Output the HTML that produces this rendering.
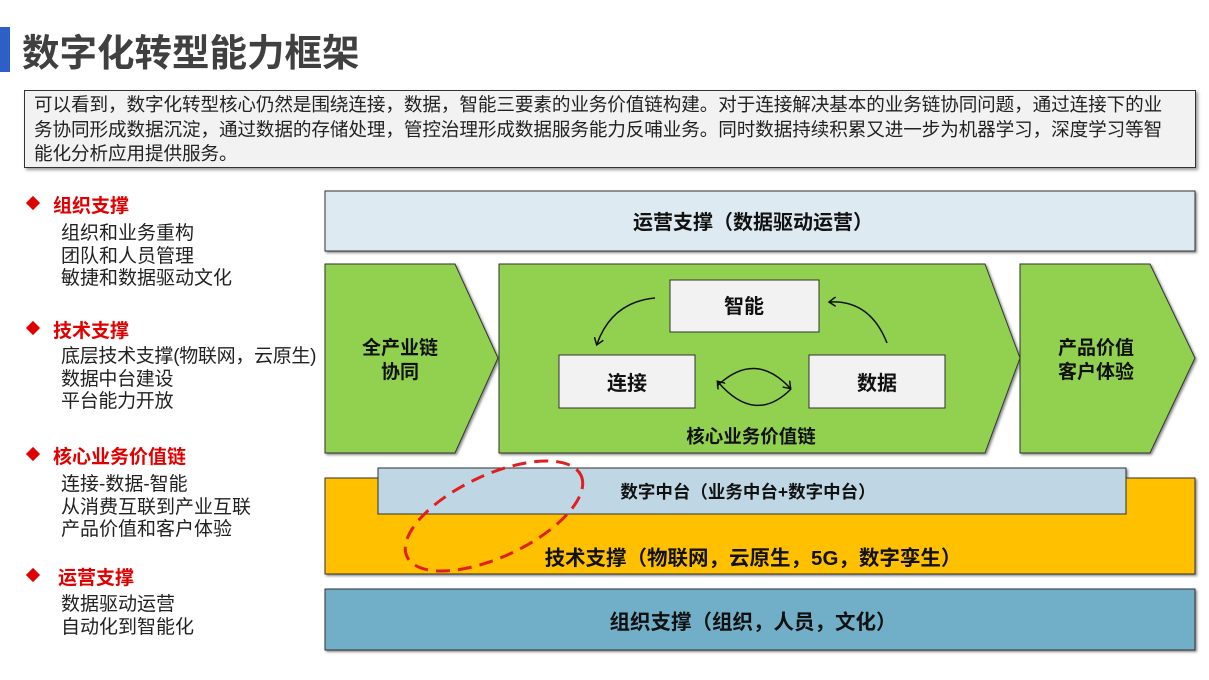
<!DOCTYPE html>
<html><head><meta charset="utf-8"><style>
body{margin:0;width:1209px;height:680px;background:#fff;position:relative;overflow:hidden;font-family:"Liberation Sans","Noto Sans CJK SC",sans-serif;}
.a{position:absolute;}
.t{font-size:19px;color:#222;line-height:22.5px;}
.h{font-size:19px;font-weight:bold;color:#e00000;}
.d{position:absolute;width:10px;height:10px;background:#e00000;transform:rotate(45deg);}
</style></head><body>
<div class="a" style="left:0;top:27px;width:10px;height:45px;background:#2c5fc7"></div>
<div class="a" style="left:22px;top:29px;font-size:37.5px;font-weight:bold;color:#404040;line-height:48px">数字化转型能力框架</div>
<div class="a" style="left:24px;top:90px;width:1172px;height:78px;background:#f2f2f2;border:1px solid #333;box-shadow:2px 2px 3px #999;box-sizing:border-box;padding:2px 6px 2px 9px;font-size:18.6px;line-height:24.5px;color:#222;letter-spacing:-0.1px;white-space:nowrap">可以看到，数字化转型核心仍然是围绕连接，数据，智能三要素的业务价值链构建。对于连接解决基本的业务链协同问题，通过连接下的业<br>务协同形成数据沉淀，通过数据的存储处理，管控治理形成数据服务能力反哺业务。同时数据持续积累又进一步为机器学习，深度学习等智<br>能化分析应用提供服务。</div>

<div class="d" style="left:28px;top:198px"></div><div class="a h" style="left:53px;top:191px">组织支撑</div>
<div class="a t" style="left:61px;top:223px">组织和业务重构<br>团队和人员管理<br>敏捷和数据驱动文化</div>
<div class="d" style="left:28px;top:323px"></div><div class="a h" style="left:53px;top:316px">技术支撑</div>
<div class="a t" style="left:61px;top:346px;letter-spacing:-0.3px">底层技术支撑(物联网，云原生)<br>数据中台建设<br>平台能力开放</div>
<div class="d" style="left:28px;top:449px"></div><div class="a h" style="left:53px;top:442px">核心业务价值链</div>
<div class="a t" style="left:61px;top:474px">连接-数据-智能<br>从消费互联到产业互联<br>产品价值和客户体验</div>
<div class="d" style="left:28px;top:570px"></div><div class="a h" style="left:58px;top:563px">运营支撑</div>
<div class="a t" style="left:61px;top:594px">数据驱动运营<br>自动化到智能化</div>

<svg class="a" style="left:0;top:0" width="1209" height="680">
<defs><filter id="s"><feDropShadow dx="1.5" dy="1.5" stdDeviation="1.2" flood-color="#888"/></filter>
<marker id="ar" markerWidth="10" markerHeight="10" refX="6" refY="5" orient="auto" markerUnits="userSpaceOnUse"><path d="M0,0 L7,5 L0,10" fill="none" stroke="#111" stroke-width="1.5"/></marker></defs>
<g stroke="#333" stroke-width="1" filter="url(#s)">
<rect x="325" y="191" width="870" height="60" fill="#deeaf2"/>
<polygon points="325,264 455,264 498,358 455,453 325,453" fill="#92d050"/>
<polygon points="499,264 985,264 1020,358 985,453 499,453" fill="#92d050"/>
<polygon points="1020,264 1150,264 1195,358 1150,453 1020,453" fill="#92d050"/>
<rect x="670" y="280" width="149" height="52" fill="#f2f2f2"/>
<rect x="559" y="355" width="136" height="53" fill="#f2f2f2"/>
<rect x="809" y="355" width="136" height="53" fill="#f2f2f2"/>
<rect x="325" y="478" width="870" height="96" fill="#ffc000"/>
<rect x="378" y="468" width="748" height="46" fill="#bfd6e4"/>
<rect x="325" y="589" width="870" height="61" fill="#71afc8"/>
</g>
<g fill="none" stroke="#111" stroke-width="1.5">
<path d="M655,298 Q612,302 597,344" marker-end="url(#ar)"/>
<path d="M887,343 Q870,300 830,302" marker-end="url(#ar)"/>
<path d="M791,389 Q755,425 718,382" marker-end="url(#ar)"/>
<path d="M717,386 Q755,350 790,388" marker-end="url(#ar)"/>
</g>
<ellipse cx="494" cy="516" rx="96" ry="41" transform="rotate(-25 494 516)" fill="none" stroke="#e02020" stroke-width="3" stroke-dasharray="14,8"/>
<g font-family="Liberation Sans,Noto Sans CJK SC,sans-serif" font-weight="bold" fill="#111" text-anchor="middle">
<text x="753" y="229" font-size="20">运营支撑（数据驱动运营）</text>
<text x="400" y="354" font-size="19">全产业链</text><text x="400" y="378" font-size="19">协同</text>
<text x="1096" y="354" font-size="19">产品价值</text><text x="1096" y="378" font-size="19">客户体验</text>
<text x="744" y="313" font-size="20">智能</text>
<text x="627" y="390" font-size="20">连接</text>
<text x="877" y="390" font-size="20">数据</text>
<text x="751" y="443" font-size="18.5">核心业务价值链</text>
<text x="748" y="498" font-size="17.5">数字中台（业务中台+数字中台）</text>
<text x="753" y="565" font-size="20.5">技术支撑（物联网，云原生，5G，数字孪生）</text>
<text x="753" y="629" font-size="20.5">组织支撑（组织，人员，文化）</text>
</g>
</svg>
</body></html>
